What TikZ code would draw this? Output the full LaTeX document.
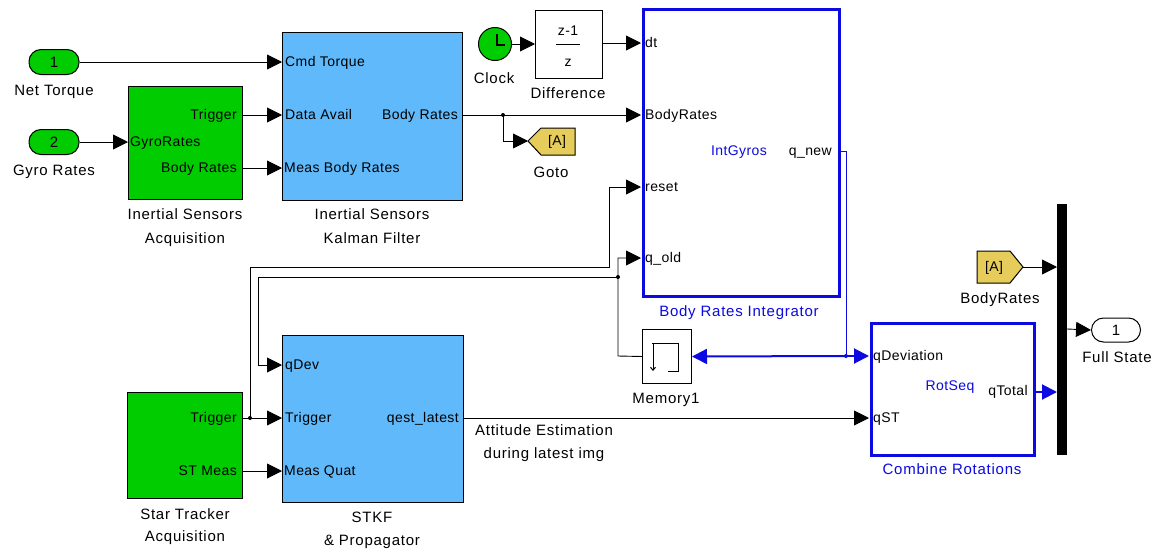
\documentclass[tikz,border=0pt]{standalone}
\usepackage{fontspec}
\setmainfont{Liberation Sans}
\newfontfamily\portfont[LetterSpace=3]{Liberation Sans}
\newfontfamily\namefont[LetterSpace=5]{Liberation Sans}
\usetikzlibrary{arrows.meta,calc}
\definecolor{sgreen}{RGB}{0,204,0}
\definecolor{sblue}{RGB}{95,185,250}
\definecolor{syellow}{RGB}{230,204,90}
\definecolor{fblue}{RGB}{10,10,225}
\tikzset{
  blk/.style={draw=black, line width=1pt, anchor=north west, inner sep=0pt},
  gblk/.style={blk, fill=sgreen},
  bblk/.style={blk, fill=sblue},
  wblk/.style={blk, fill=white},
  frm/.style={draw=fblue, line width=3pt, anchor=north west, inner sep=0pt},
  wire/.style={draw=black, line width=0.9pt},
  arr/.style={wire, -{Triangle[length=15pt,width=15pt]}},
  bwire/.style={draw=fblue, line width=1pt},
  barr/.style={draw=fblue, line width=2pt, -{Triangle[length=15pt,width=15pt]}},
  port/.style={font=\portfont\fontsize{14}{16}\selectfont, inner sep=1pt, text height=10.5pt, text depth=1pt},
  pl/.style={port, anchor=west},
  pr/.style={port, anchor=east},
  nm/.style={font=\namefont\fontsize{15}{17}\selectfont, inner sep=0pt, text height=11pt, text depth=1pt},
  bnm/.style={nm, text=fblue},
  inport/.style={draw=black, fill=sgreen, line width=1pt, rounded corners=12pt, minimum width=50pt, minimum height=25pt, inner sep=0pt, font=\portfont\fontsize{15}{17}\selectfont},
  dot/.style={circle, fill=black, inner sep=0pt, minimum size=4pt},
  bdot/.style={circle, fill=fblue, inner sep=0pt, minimum size=4pt}
}
\begin{document}
\begin{tikzpicture}[x=1pt,y=-1pt]
\useasboundingbox[fill=white] (0,0) rectangle (1160,550);

% ---------- inports ----------
\node[inport] (nt) at (54,62) {1};
\node[nm] (ntl) at (54,90) {Net Torque};
\node[inport] (gr) at (54,142) {2};
\node[nm] (grl) at (54,170) {Gyro Rates};

% ---------- Inertial Sensors Acquisition ----------
\node[gblk, minimum width=114pt, minimum height=113pt] (isa) at (128,86) {};
\node[pr] (isat) at (238,115) {Trigger};
\node[pl] (isag) at (129,142) {GyroRates};
\node[pr] (isab) at (238,168) {Body Rates};
\node[nm] (isan1) at (185,214) {Inertial Sensors};
\node[nm] (isan2) at (185,238) {Acquisition};
\coordinate (isa-trig) at (242,115);
\coordinate (isa-gyro) at (128,142);
\coordinate (isa-body) at (242,168);

% ---------- Kalman filter ----------
\node[bblk, minimum width=180pt, minimum height=168pt] (kf) at (282,32) {};
\node[pl] (kfc) at (284,62) {Cmd Torque};
\node[pl] (kfd) at (284,115) {Data Avail};
\node[pl] (kfm) at (283,168) {Meas Body Rates};
\node[pr] (kfo) at (459,115) {Body Rates};
\node[nm] (kfn1) at (372,214) {Inertial Sensors};
\node[nm] (kfn2) at (372,238) {Kalman Filter};
\coordinate (kf-cmd) at (282,62);
\coordinate (kf-avail) at (282,115);
\coordinate (kf-meas) at (282,168);
\coordinate (kf-out) at (462,115);

% ---------- Clock and Difference ----------
\node[circle, draw=black, fill=sgreen, line width=1pt, minimum size=33pt, inner sep=0pt] (clk) at (495,44) {};
\draw[line width=1.3pt] ($(clk.center)+(2,-10)$) -- ($(clk.center)+(2,1)$) -- ($(clk.center)+(10,1)$);
\node[nm] (clkl) at (494,78) {Clock};
\node[wblk, minimum width=67pt, minimum height=68pt] (diff) at (535,10) {};
\node[port] (dnum) at (568,31) {z-1};
\draw[line width=1pt] (556,44) -- (580,44);
\node[port] (dden) at (568,62) {z};
\node[nm] (diffl) at (568,93) {Difference};

% ---------- Goto ----------
\draw[fill=syellow, line width=1pt] (528,141) -- (541,128) -- (575,128) -- (575,155) -- (541,155) -- cycle;
\coordinate (gototip) at (528,141);
\node[port] (gotot) at (557,141) {[A]};
\node[nm] (gotol) at (551,172) {Goto};

% ---------- Body Rates Integrator ----------
\node[frm, minimum width=196pt, minimum height=287pt] (bri) at (642,8) {};
\node[pl] (brid) at (644,43) {dt};
\node[pl] (brib) at (644,115) {BodyRates};
\node[pl] (brir) at (644,187) {reset};
\node[pl] (briq) at (644,258) {q\_old};
\node[port, text=fblue] (brii) at (739,151) {IntGyros};
\node[pr] (brin) at (833,151) {q\_new};
\node[bnm] (briname) at (739,311) {Body Rates Integrator};
\coordinate (bri-dt) at (641,43);
\coordinate (bri-body) at (641,115);
\coordinate (bri-reset) at (641,187);
\coordinate (bri-qold) at (641,258);
\coordinate (bri-qnew) at (839,151);

% ---------- Memory ----------
\node[wblk, minimum width=49pt, minimum height=54pt] (mem) at (642,329) {};
\draw[line width=1pt] (652,343) -- (678,343) -- (678,371) -- (668,371);
\draw[line width=1pt, -{Straight Barb[length=3pt,width=5pt]}] (653,344) -- (653,371);
\node[nm] (meml) at (666,398) {Memory1};

% ---------- Star tracker acquisition ----------
\node[gblk, minimum width=115pt, minimum height=106pt] (sta) at (127,392) {};
\node[pr] (stat) at (238,418) {Trigger};
\node[pr] (stam) at (238,471) {ST Meas};
\node[nm] (stan1) at (185,514) {Star Tracker};
\node[nm] (stan2) at (185,536) {Acquisition};
\coordinate (sta-trig) at (242,418);
\coordinate (sta-meas) at (242,471);

% ---------- STKF ----------
\node[bblk, minimum width=181pt, minimum height=167pt] (stkf) at (282,335) {};
\node[pl] (stkq) at (284,365) {qDev};
\node[pl] (stkt) at (284,418) {Trigger};
\node[pl] (stkm) at (283,471) {Meas Quat};
\node[pr] (stko) at (460,418) {qest\_latest};
\node[nm] (stkn1) at (372,517) {STKF};
\node[nm] (stkn2) at (372,540) {\& Propagator};
\coordinate (stkf-qdev) at (282,365);
\coordinate (stkf-trig) at (282,418);
\coordinate (stkf-meas) at (282,471);
\coordinate (stkf-out) at (463,418);
\node[nm] (att1) at (544,430) {Attitude Estimation};
\node[nm] (att2) at (544,453) {during latest img};

% ---------- Combine Rotations ----------
\node[frm, minimum width=163pt, minimum height=132pt] (cr) at (870,322) {};
\node[pl] (crd) at (872,356) {qDeviation};
\node[pl] (crs) at (872,418) {qST};
\node[port, text=fblue] (crr) at (950,386) {RotSeq};
\node[pr] (crt) at (1029,391) {qTotal};
\node[bnm] (crname) at (952,469) {Combine Rotations};
\coordinate (cr-qdev) at (869,356);
\coordinate (cr-qst) at (869,418);
\coordinate (cr-out) at (1034,392);

% ---------- From tag, Mux, Outport ----------
\draw[fill=syellow, line width=1pt] (977,251) -- (1010,251) -- (1023,267) -- (1010,283) -- (977,283) -- cycle;
\coordinate (fromtip) at (1023,267);
\node[port] (fromt) at (994,267) {[A]};
\node[nm] (froml) at (1000,298) {BodyRates};
\node[fill=black, minimum width=10pt, minimum height=251pt, inner sep=0pt, anchor=north west] (mux) at (1057,204) {};
\coordinate (mux-in1) at (1057,267);
\coordinate (mux-in2) at (1057,392);
\coordinate (mux-out) at (1067,329);
\node[draw=black, fill=white, line width=1pt, rounded corners=12pt, minimum width=49pt, minimum height=24pt, inner sep=0pt, font=\portfont\fontsize{15}{17}\selectfont] (outp) at (1116,330) {1};
\node[nm] (outl) at (1117,357) {Full State};

% ---------- connectors ----------
\draw[arr] (nt.east) -- (kf-cmd);
\draw[arr] (gr.east) -- (isa-gyro);
\draw[arr] (isa-trig) -- (kf-avail);
\draw[arr] (isa-body) -- (kf-meas);
\coordinate (br1) at (503,115);
\draw[arr] (kf-out) -- (bri-body);
\draw[arr] (br1) |- (gototip);
\node[dot] at (br1) {};
\draw[arr] (clk.east) -- (diff.west |- clk.east);
\draw[arr] (diff.east |- bri-dt) -- (bri-dt);

\coordinate (br2) at (250,418);
\draw[arr] (sta-trig) -- (stkf-trig);
\draw[arr] (sta-meas) -- (stkf-meas);
\draw[arr] (br2) -- (250,267) -- (609,267) |- (bri-reset);
\node[dot] at (br2) {};

\coordinate (br3) at (618,277);
\draw[arr] (mem.west) -- (618,356) |- (bri-qold);
\draw[arr] (br3) -- (258,277) |- (stkf-qdev);
\node[dot] at (br3) {};

\coordinate (br4) at (846,356);
\draw[bwire] (bri-qnew) -- (846,151) -- (br4);
\draw[barr] (br4) -- (mem.east);
\draw[barr] (br4) -- (cr-qdev);
\node[bdot] at (br4) {};

\draw[arr] (stkf-out) -- (cr-qst);
\draw[barr] (cr-out) -- (mux-in2);
\draw[arr] (fromtip) -- (mux-in1);
\draw[arr] (mux-out) -- (outp.west);
\end{tikzpicture}
\end{document}
